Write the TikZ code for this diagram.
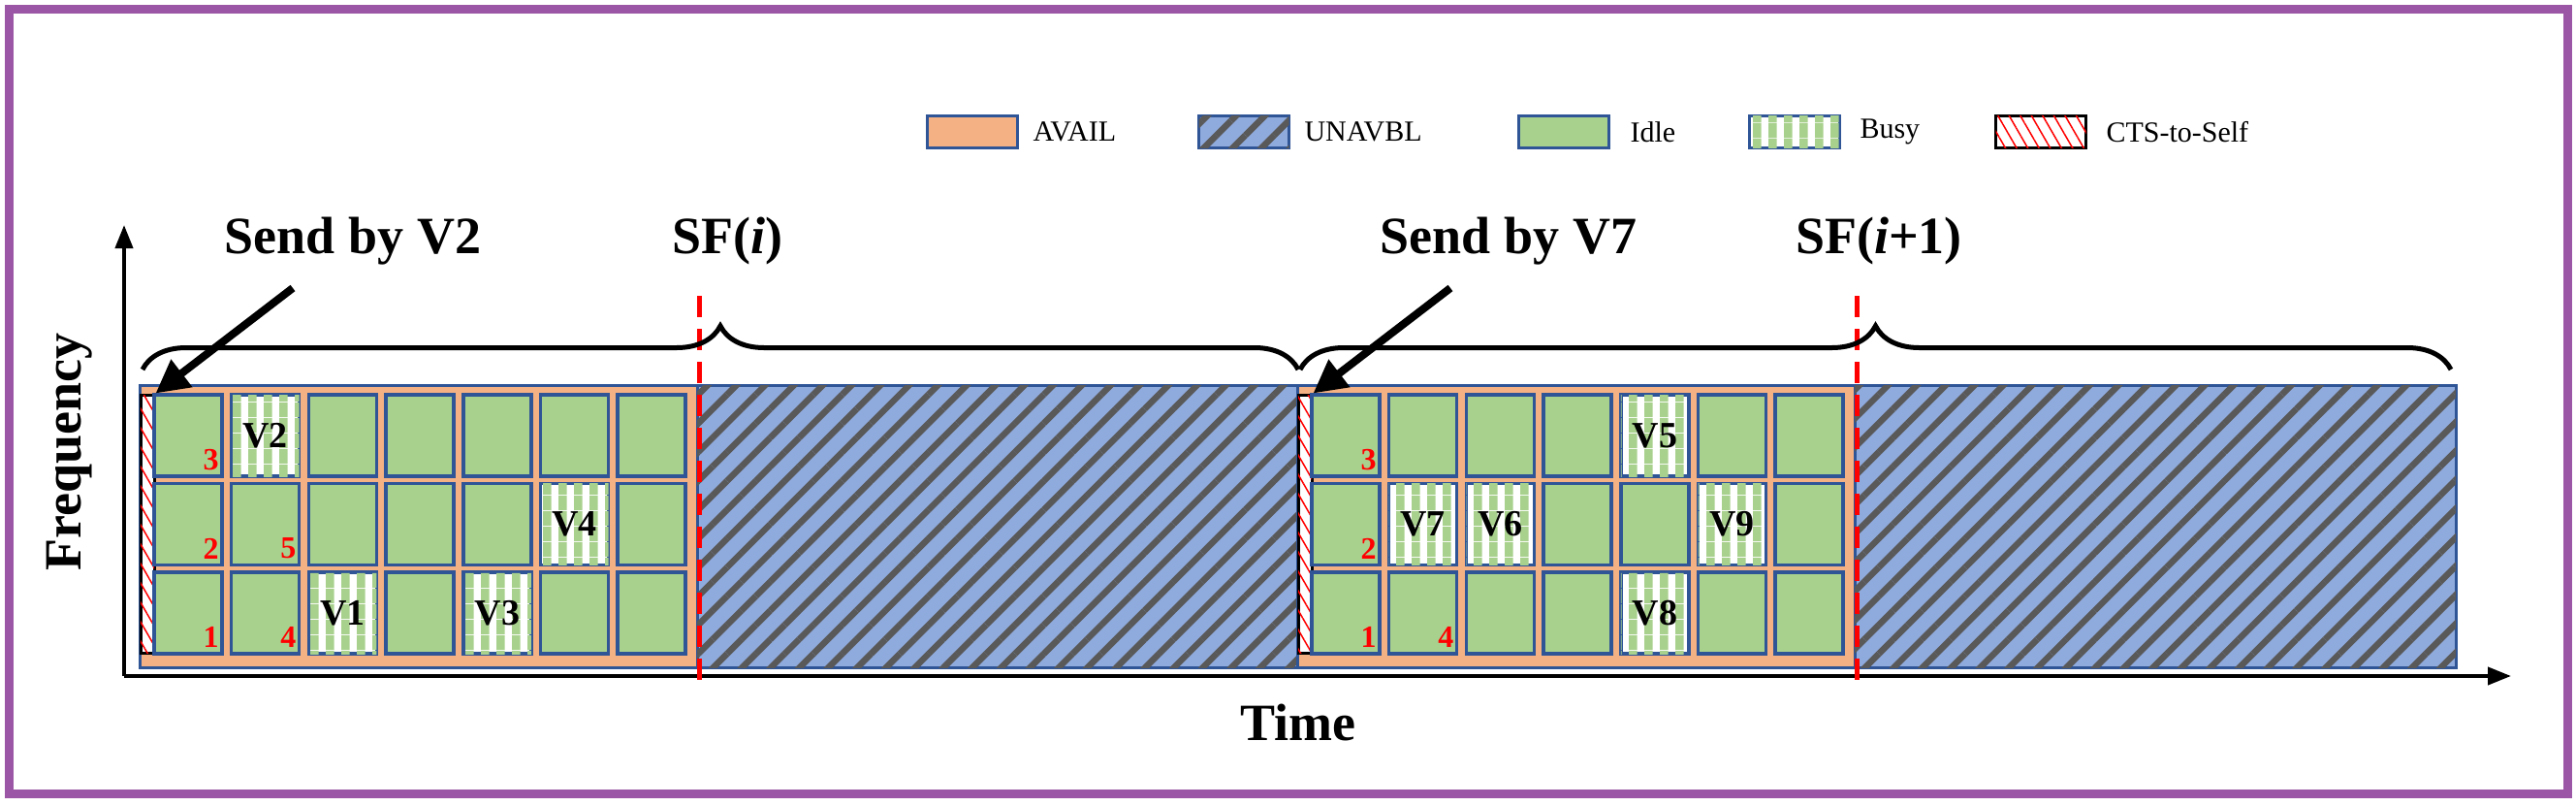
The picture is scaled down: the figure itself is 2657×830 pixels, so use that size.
\documentclass[tikz,border=0pt]{standalone}
\usepackage{fontspec}
\setmainfont{Liberation Serif}
\usetikzlibrary{patterns.meta,decorations.pathreplacing,arrows.meta}
\definecolor{avail}{HTML}{F4B183}
\definecolor{idle}{HTML}{A9D18E}
\definecolor{edge}{HTML}{2F5597}
\definecolor{unav}{HTML}{8FAADC}
\definecolor{stripe}{HTML}{595959}
\definecolor{purp}{HTML}{9B57A5}
\tikzdeclarepattern{name=busypat, tile size={(16pt,16pt)}, bottom left={(0pt,0pt)}, top right={(16pt,16pt)}, code={\fill (0pt,0pt) rectangle (9pt,16pt);}}
\begin{document}
\begin{tikzpicture}[x=1pt,y=-1pt,
  availbox/.style={fill=avail,draw=edge,line width=3pt},
  unavbox/.style={fill=unav,draw=edge,line width=3pt,postaction={pattern={Lines[angle=45,distance=21pt,line width=6.5pt]},pattern color=stripe}},
  cell/.style={draw=edge,fill=idle,line width=3.5pt,minimum width=70pt,minimum height=84pt,inner sep=0pt},
  busy/.style={draw=edge,fill=white,line width=3.5pt,minimum width=70pt,minimum height=84pt,inner sep=0pt,postaction={pattern=busypat,pattern color=idle},font=\fontsize{38}{44}\selectfont\bfseries},
  cts/.style={draw=black,fill=white,line width=3pt,postaction={pattern={Lines[angle=-60,distance=10pt,line width=1.5pt]},pattern color=red}},
  num/.style={text=red,font=\fontsize{32}{36}\selectfont\bfseries,anchor=south east,inner sep=0pt},
  big/.style={font=\fontsize{54}{62}\selectfont\bfseries},
  leg/.style={font=\fontsize{30}{34}\selectfont,anchor=west},
  sfline/.style={red,line width=5pt,dash pattern=on 22pt off 12pt},
  brc/.style={decorate,decoration={brace,amplitude=45pt},line width=5pt},
  arr/.style={line width=8pt,-{Triangle[length=34pt,width=34pt]}},
  axis/.style={line width=4pt,-{Triangle[length=24pt,width=18pt]}}
]
\useasboundingbox (0,0) rectangle (2657,830);
\draw[purp,line width=9pt] (9,9) rectangle (2648,818);
% legend
\node[availbox,minimum width=93pt,minimum height=33pt] (lg1) at (1003,136) {};
\node[leg] at (1062,136) {AVAIL};
\node[unavbox,minimum width=93pt,minimum height=33pt] (lg2) at (1283,136) {};
\node[leg] at (1342,136) {UNAVBL};
\node[cell,minimum width=93pt,minimum height=33pt] (lg3) at (1613,136) {};
\node[leg] at (1678,136) {Idle};
\node[busy,minimum width=93pt,minimum height=33pt] (lg4) at (1851,136) {};
\node[leg] at (1915,136) {Busy};
\node[cts,minimum width=93pt,minimum height=33pt] (lg5) at (2105,136) {};
\node[leg] at (2169,136) {CTS-to-Self};
% axes
\coordinate (o) at (128,697);
\coordinate (ytop) at (128,232);
\coordinate (xend) at (2590,697);
\draw[axis] (o) -- (ytop);
\draw[axis] (o) -- (xend);
\node[big,rotate=90] (freq) at (72,466) {Frequency};
\node[big] (time) at (1339,745) {Time};
% regions
\foreach \off/\k in {0/1,1194/2}{
  \draw[availbox] (144.5+\off,397) rectangle (719+\off,688);
  \draw[unavbox] (719+\off,397) rectangle (1339+\off,688);
  \node[cts,minimum width=14pt,minimum height=266pt,inner sep=0pt] (cts\k) at (152+\off,540) {};
  \foreach \c in {0,...,6}{
    \foreach \r in {0,1,2}{
      \node[cell] (c\k-\c-\r) at (194+\off+79.7*\c,449+91.5*\r) {};
    }
  }
  \draw[sfline] (721+\off,305) -- (721+\off,703);
}
% busy cells
\node[busy] at (c1-1-0) {V2};
\node[busy] at (c1-5-1) {V4};
\node[busy] at (c1-2-2) {V1};
\node[busy] at (c1-4-2) {V3};
\node[busy] at (c2-4-0) {V5};
\node[busy] at (c2-1-1) {V7};
\node[busy] at (c2-2-1) {V6};
\node[busy] at (c2-5-1) {V9};
\node[busy] at (c2-4-2) {V8};
% numbers
\foreach \k in {1,2}{
  \node[num] at ([shift={(-5,-8)}]c\k-0-0.south east) {3};
  \node[num] at ([shift={(-5,-8)}]c\k-0-1.south east) {2};
  \node[num] at ([shift={(-5,-8)}]c\k-0-2.south east) {1};
  \node[num] at ([shift={(-5,-8)}]c\k-1-2.south east) {4};
}
\node[num] at ([shift={(-5,-8)}]c1-1-1.south east) {5};
% braces
\draw[brc] (147,381) -- (1339,381);
\draw[brc] (1341,381) -- (2528,381);
% labels
\node[big] (s1) at (364,249) {Send by V2};
\node[big] (sf1) at (750,249) {SF(\textit{i})};
\node[big] (s2) at (1556,249) {Send by V7};
\node[big] (sf2) at (1938,249) {SF(\textit{i}+1)};
\coordinate (a1) at (302,297);
\coordinate (a2) at (1496,297);
\draw[arr] (a1) -- (cts1.north east);
\draw[arr] (a2) -- (cts2.north east);
\end{tikzpicture}
\end{document}
